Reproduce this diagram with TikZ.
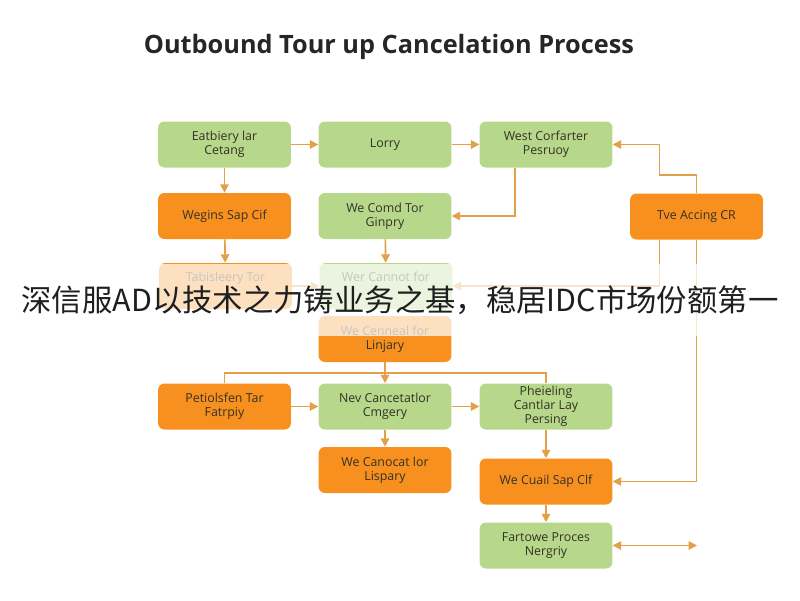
\documentclass[tikz,border=0pt]{standalone}
\usepackage{fontspec}
\setmainfont{Open Sans}
\newfontfamily\cjk{Noto Sans CJK SC}
\usetikzlibrary{arrows.meta,calc}
\definecolor{boxgreen}{RGB}{183,216,138}
\definecolor{boxorange}{RGB}{247,144,30}
\definecolor{linkcol}{RGB}{228,160,72}
\definecolor{txtcol}{RGB}{50,50,38}

\begin{document}
\begin{tikzpicture}[x=0.025cm, y=-0.025cm,
  box/.style={rounded corners=4.5pt, minimum width=3.32cm, minimum height=1.15cm,
    inner sep=1pt, align=center, text=txtcol, font=\fontsize{8.8}{10}\selectfont},
  gbox/.style={box, fill=boxgreen},
  obox/.style={box, fill=boxorange},
  bus/.style={linkcol, line width=1.2pt},
  link/.style={bus, -{Triangle[length=6pt,width=6pt]}}]

\useasboundingbox (0,0) rectangle (800,600);

\node[font=\fontsize{18}{21}\selectfont\bfseries, text=black!85] (title) at (389,47) {Outbound Tour up Cancelation Process};

% first rows
\node[gbox] (p11) at (224.5,144.5) {Eatbiery lar\\Cetang};
\node[gbox] (p12) at (385,144.5) {Lorry};
\node[gbox] (p13) at (546,144.5) {West Corfarter\\Pesruoy};
\node[obox] (p21) at (224.5,216) {Wegins Sap Cif};
\node[gbox] (p22) at (385,216) {We Comd Tor\\Ginpry};
\node[obox] (p24) at (696.5,216.5) {Tve Accing CR};
\node[obox] (p31) at (225.5,286) {Tabisleery Tor\\\strut};
\node[gbox] (p32) at (386,286) {Wer Cannot for\\\strut};
\node[obox] (p42) at (385,339) {We Cenneal for\\Linjary};

% lower rows
\node[obox] (p51) at (224.5,406.5) {Petiolsfen Tar\\Fatrpiy};
\node[gbox] (p52) at (385,406.5) {Nev Cancetatlor\\Cmgery};
\node[gbox] (p53) at (546,406.5) {Pheieling\\Cantlar Lay\\Persing};
\node[obox] (p62) at (385,470) {We Canocat lor\\Lispary};
\node[obox] (p63) at (546,481.5) {We Cuail Sap Clf};
\node[gbox] (p73) at (546,545.5) {Fartowe Proces\\Nergriy};
\coordinate (q73) at (697,545.5);

\draw[link] (p11) -- (p12);
\draw[link] (p12) -- (p13);
\draw[link] (p11) -- (p21);
\draw[link] ($(p13.south)+(-31,0)$) |- (p22.east);
\draw[link] (p24.north) -- ++(0,-18) -- ++(-37,0) |- (p13.east);
\draw[link] (p21) -- (p31);
\draw[link] (p22) -- (p32);
\draw[link] (p31) -- (p32);
\draw[link] ($(p24.south)+(-37,0)$) |- (p32.east);
\draw[link] (p24.south) |- (p63.east);

\draw[bus] (p51.north) -- ++(0,-10) -| (p53.north);
\draw[link] (p42) -- (p52);
\draw[link] (p51) -- (p52);
\draw[link] (p52) -- (p53);
\draw[link] (p52) -- (p62);
\draw[link] (p53) -- (p63);
\draw[link] (p63) -- (p73);
\draw[link, {Triangle[length=6pt,width=6pt]}-{Triangle[length=6pt,width=6pt]}] (p73) -- (q73);

% banner across the middle
\fill[white, opacity=0.72] (0,264) rectangle (800,336);
\node[font=\cjk\fontsize{21.6}{24}\selectfont, text=black!88] (banner) at (400,300) {深信服AD以技术之力铸业务之基，稳居IDC市场份额第一};

\end{tikzpicture}
\end{document}
